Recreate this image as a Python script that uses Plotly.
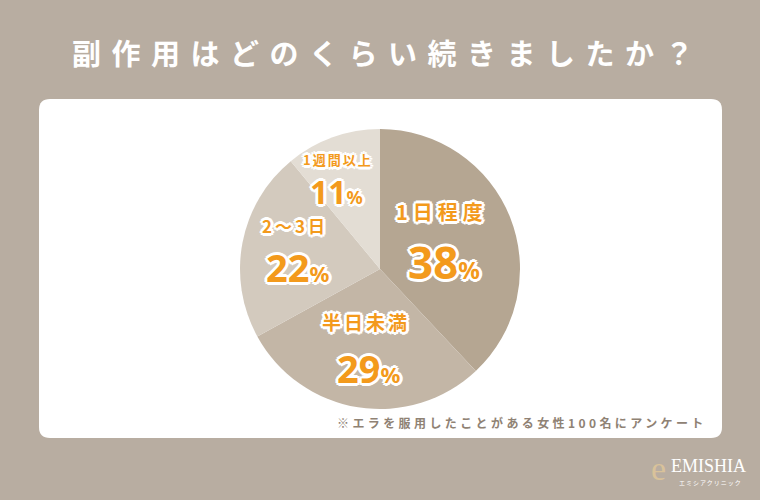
import plotly.graph_objects as go

W, H = 760, 500

categories = ["1日程度", "半日未満", "2〜3日", "1週間以上"]
values = [38, 29, 22, 11]
slice_colors = ["#b5a692", "#c3b6a6", "#d3cabe", "#e3ddd4"]
title_text = "副作用はどのくらい続きましたか？"
note_text = "※エラを服用したことがある女性100名にアンケート"

BG = "#b8ada1"
ORANGE = "#f39a1c"
JP = "Noto Sans CJK JP"

def px(x):
    return x / W

def py(y):
    return 1 - y / H

outline = ", ".join(f"{dx}px {dy}px 0 #ffffff" for dx, dy in
                    [(-2, -2), (2, -2), (-2, 2), (2, 2), (0, -3), (0, 3), (-3, 0), (3, 0)])

fig = go.Figure()

fig.add_trace(go.Pie(
    labels=categories,
    values=values,
    sort=False,
    direction="clockwise",
    rotation=0,
    marker=dict(colors=slice_colors, line=dict(width=0)),
    textinfo="none",
    hoverinfo="label+percent",
    showlegend=False,
    domain=dict(x=[px(240), px(520)], y=[py(409), py(129)]),
))

# white rounded panel
def rounded_rect(x0, y0, x1, y1, r):
    X = px
    Y = py
    return (f"M {X(x0+r)},{Y(y0)} L {X(x1-r)},{Y(y0)} "
            f"Q {X(x1)},{Y(y0)} {X(x1)},{Y(y0+r)} L {X(x1)},{Y(y1-r)} "
            f"Q {X(x1)},{Y(y1)} {X(x1-r)},{Y(y1)} L {X(x0+r)},{Y(y1)} "
            f"Q {X(x0)},{Y(y1)} {X(x0)},{Y(y1-r)} L {X(x0)},{Y(y0+r)} "
            f"Q {X(x0)},{Y(y0)} {X(x0+r)},{Y(y0)} Z")

shapes = [dict(type="path", xref="paper", yref="paper", layer="below",
               path=rounded_rect(39, 99, 722, 438, 11),
               fillcolor="#ffffff", line=dict(width=0))]

annotations = []

def ann(text, x, y, size, color, spacing=0, weight="normal", family=JP, shadow="none"):
    if spacing:
        text = f"<span style='letter-spacing:{spacing}px'>{text}</span>"
    annotations.append(dict(
        text=text, x=px(x), y=py(y), xref="paper", yref="paper",
        xanchor="center", yanchor="middle", showarrow=False,
        font=dict(size=size, color=color, family=family, weight=weight, shadow=shadow),
    ))

ann(title_text, 388, 52, 29, "#ffffff", spacing=10.5, weight="bold")

pct_size = [44, 38, 38, 32]
pct_small = [24, 22, 22, 18]
name_size = [20, 19, 17, 13]
name_spacing = [5, 3, 3, 2]
name_pos = [(442, 212), (366, 321), (295, 226), (338, 159)]
pct_pos = [(444, 262), (368, 368), (297, 267), (336, 191)]

for i, cat in enumerate(categories):
    ann(cat, *name_pos[i], name_size[i], ORANGE, spacing=name_spacing[i],
        weight="bold", shadow=outline)
    ann(f"{values[i]}<span style='font-size:{pct_small[i]}px'>%</span>",
        *pct_pos[i], pct_size[i], ORANGE, weight="bold", shadow=outline,
        family="Noto Sans")

ann(note_text, 522, 422, 12, "#8f8274", spacing=3.4, weight="bold")

# logo
ann("e", 658, 468, 34, "#d9c29a", family="Liberation Serif")
ann("EMISHIA", 708, 466, 18, "#ffffff", family="Liberation Serif")
ann("エミシアクリニック", 710, 482, 6, "#ffffff", spacing=1)

fig.update_layout(
    width=W, height=H,
    margin=dict(l=0, r=0, t=0, b=0),
    paper_bgcolor=BG, plot_bgcolor=BG,
    shapes=shapes, annotations=annotations,
)

fig.write_html("out.html", config={"displayModeBar": False},
               post_script="document.body.style.margin='0';document.body.style.overflow='hidden';")
